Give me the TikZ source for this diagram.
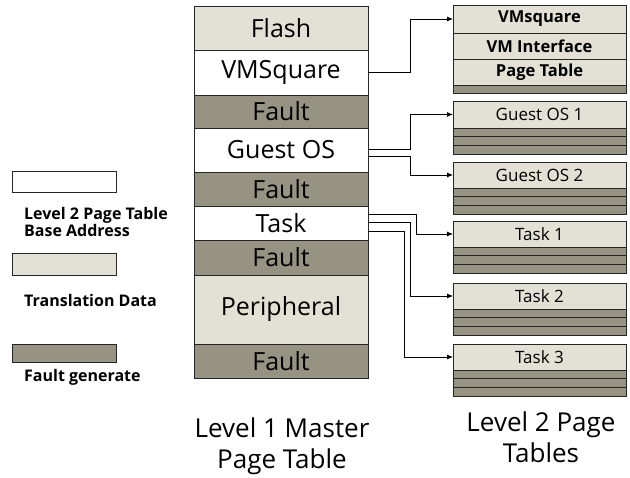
\documentclass[tikz,border=0pt]{standalone}
\usepackage{fontspec}
\setmainfont{Open Sans}
\usetikzlibrary{calc,arrows.meta}
\definecolor{lt}{HTML}{E3E1D5}
\definecolor{dk}{HTML}{979382}
\definecolor{bd}{HTML}{262626}
\begin{document}
\begin{tikzpicture}[x=1pt,y=-1pt,
  cell/.style={draw=bd,line width=0.9pt,inner sep=0pt,outer sep=0pt,anchor=north west,
    font=\fontsize{25}{25}\selectfont},
  maincell/.style={cell,minimum width=174pt},
  sidecell/.style={cell,minimum width=173pt,minimum height=26pt,fill=lt,font=\fontsize{17}{17}\selectfont},
  boldcell/.style={sidecell,font=\bfseries\fontsize{16.5}{16.5}\selectfont},
  strip/.style={cell,minimum width=173pt,minimum height=8.67pt,fill=dk},
  legbox/.style={cell,minimum width=104pt},
  legtext/.style={anchor=base west,inner sep=0pt,font=\bfseries\fontsize{16}{16}\selectfont},
  title/.style={anchor=base,inner sep=0pt,font=\fontsize{26}{26}\selectfont},
  conn/.style={draw=black,line width=0.8pt,-{Latex[length=6pt,width=5pt]}}]
\useasboundingbox (0,0) rectangle (630,478);
\fill[white] (0,0) rectangle (630,478);
% Level 1 master table
\node[maincell,fill=lt,minimum height=44pt] (flash) at (194,6) {Flash};
\node[maincell,fill=white,minimum height=45pt] (vms) at (194,50) {VMSquare};
\node[maincell,fill=dk,minimum height=33pt] (f1) at (194,95) {Fault};
\node[maincell,fill=white,minimum height=44pt] (gos) at (194,128) {Guest OS};
\node[maincell,fill=dk,minimum height=34pt] (f2) at (194,172) {Fault};
\node[maincell,fill=white,minimum height=34pt] (task) at (194,206) {Task};
\node[maincell,fill=dk,minimum height=35pt] (f3) at (194,240) {Fault};
\node[maincell,fill=lt,minimum height=69pt] (per) at (194,275) {Peripheral};
\node[maincell,fill=dk,minimum height=34pt] (f4) at (194,344) {Fault};
% Level 2 tables
\node[boldcell,minimum height=28pt] (t0a) at (453,5) {VMsquare};
\node[boldcell] (t0b) at (453,33) {VM Interface};
\node[boldcell] (t0c) at (453,59) {Page Table};
\node[strip,minimum height=8pt] (t0d) at (453,85) {};
\node[sidecell,minimum height=27pt] (g1) at (453,101) {Guest OS 1};
\node[sidecell] (g2) at (453,162) {Guest OS 2};
\node[sidecell] (k1) at (453,221) {Task 1};
\node[sidecell] (k2) at (453,283) {Task 2};
\node[sidecell] (k3) at (453,344) {Task 3};
\foreach \n/\y in {g1/128,g2/188,k1/247,k2/309,k3/370}{
  \foreach \i in {0,1,2}{
    \node[strip] (\n s\i) at (453,\y+\i*8.67) {};
  }
}
% connectors
\draw[conn] (vms.east) -- ++(42,0) |- (t0a.west);
\draw[conn] ($(gos.east)+(0,-1)$) -- ++(42,0) |- (g1.west);
\draw[conn] ($(gos.east)+(0,6)$) -- ++(42,0) |- (g2.west);
\draw[conn] ($(task.east)+(0,-9)$) -- ++(48,0) |- (k1.west);
\draw[conn] ($(task.east)+(0,-1)$) -- ++(42,0) |- (k2.west);
\draw[conn] ($(task.east)+(0,8)$) -- ++(36,0) |- (k3.west);
% legend
\node[legbox,fill=white,minimum height=21pt] (lg1) at (12,171) {};
\node[legtext] (lt1a) at (24,220) {Level 2 Page Table};
\node[legtext] (lt1b) at (24,237) {Base Address};
\node[legbox,fill=lt,minimum height=22pt] (lg2) at (12,253) {};
\node[legtext] (lt2) at (24,307) {Translation Data};
\node[legbox,fill=dk,minimum height=18pt] (lg3) at (12,344) {};
\node[legtext] (lt3) at (24,382) {Fault generate};
% titles
\node[title] (ta) at (282,438) {Level 1 Master};
\node[title] (tb) at (282,469) {Page Table};
\node[title] (tc) at (541,432) {Level 2 Page};
\node[title] (td) at (541,463) {Tables};
\end{tikzpicture}
\end{document}
